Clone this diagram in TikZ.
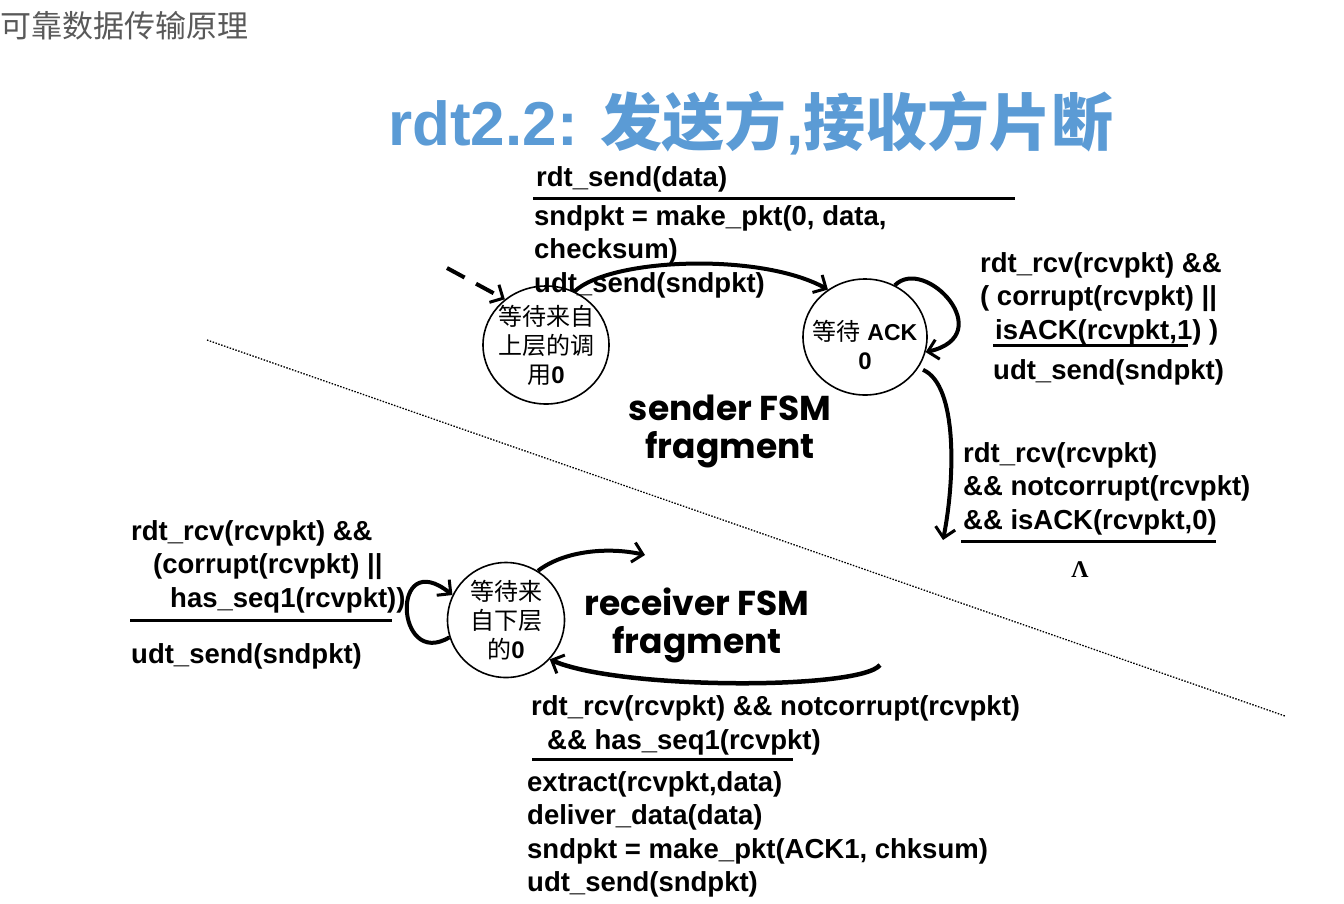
\documentclass[tikz,border=0pt]{standalone}
\usepackage{fontspec}
\setmainfont{Liberation Sans}
\newfontfamily\cjk{Noto Sans CJK SC}
\newfontfamily\comic{Poppins}
\newfontfamily\serifgreek{Liberation Serif}
\usetikzlibrary{arrows.meta,shapes.geometric}
\definecolor{titleblue}{RGB}{91,155,213}
\definecolor{headgrey}{RGB}{89,89,89}
\begin{document}
\begin{tikzpicture}[x=1pt,y=-1pt,
  lbl/.style={anchor=base west, inner sep=0pt, align=left,
    font=\bfseries\fontsize{27.5}{33.5}\selectfont},
  state/.style={ellipse, draw, line width=1.6pt, inner sep=0pt,
    minimum width=124pt, minimum height=116pt},
  stext/.style={align=center, inner sep=0pt, font=\fontsize{24}{29}\selectfont},
  fsm/.style={anchor=center, inner sep=0pt, align=center,
    font=\comic\bfseries\fontsize{34.5}{42}\selectfont},
  trans/.style={line width=4pt, -{Straight Barb[length=10pt,width=20pt,line width=3pt]}},
  bar/.style={line width=3pt},
]
\useasboundingbox (0,0) rectangle (1344,903);

% header and title
\node[anchor=base west, inner sep=0pt, text=headgrey, font=\cjk\fontsize{31}{31}\selectfont] (hdr) at (0,37) {可靠数据传输原理};
\node[anchor=base west, inner sep=0pt, text=titleblue, font=\bfseries\fontsize{62}{62}\selectfont] (title) at (388,145) {rdt2.2: {\cjk\bfseries 发送方},{\cjk\bfseries 接收方片断}};

% divider
\coordinate (d1) at (207,340);
\coordinate (d2) at (1285,716);
\draw[line width=1.3pt, dash pattern=on 1.5pt off 1.5pt] (d1) -- (d2);

% states
\node[state, minimum width=126pt, minimum height=118pt,
  label={[stext]center:{\cjk 等待来自}\\{\cjk 上层的调}\\{\cjk 用}\textbf{0}}] (A) at (546,345) {};
\node[state,
  label={[stext, yshift=-8pt]center:{\cjk 等待} \textbf{\fontsize{23}{29}\selectfont ACK}\\\textbf{0}}] (B) at (865,337) {};
\node[state, minimum width=117pt, minimum height=115pt,
  label={[stext]center:{\cjk 等待来}\\{\cjk 自下层}\\{\cjk 的}\textbf{0}}] (C) at (506,620) {};

% sender labels (multi-line nodes: base = last line)
\node[lbl] (l1) at (536,186) {rdt\_send(data)};
\draw[bar] (533,198) -- (1015,198);
\node[lbl] (l2) at (534,292) {sndpkt = make\_pkt(0, data,\\checksum)\\udt\_send(sndpkt)};

\node[lbl] (l3) at (980,305.5) {rdt\_rcv(rcvpkt) \&\&\\( corrupt(rcvpkt) ||};
\node[lbl] (l4) at (995,339) {isACK(rcvpkt,1) )};
\draw[bar] (993,345) -- (1188,345);
\node[lbl] (l5) at (993,379) {udt\_send(sndpkt)};

\node[lbl] (l6) at (963,529) {rdt\_rcv(rcvpkt)\\\&\& notcorrupt(rcvpkt)\\\&\& isACK(rcvpkt,0)};
\draw[bar] (961,541) -- (1216,541);
\node[inner sep=0pt, font=\serifgreek\bfseries\fontsize{24}{24}\selectfont] (lam) at (1080,570) {Λ};

\node[fsm] (sf1) at (730,408) {sender FSM};
\node[fsm] (sf2) at (730,450) {fragment};

% receiver labels
\node[lbl] (r1) at (131,540) {rdt\_rcv(rcvpkt) \&\&};
\node[lbl] (r2) at (153,573) {(corrupt(rcvpkt) ||};
\node[lbl] (r3) at (170,607) {has\_seq1(rcvpkt))};
\draw[bar] (130,620) -- (392,620);
\node[lbl] (r4) at (131,663) {udt\_send(sndpkt)};

\node[lbl] (r5) at (531,715) {rdt\_rcv(rcvpkt) \&\& notcorrupt(rcvpkt)};
\node[lbl] (r6) at (547,749) {\&\& has\_seq1(rcvpkt)};
\draw[bar] (532,759) -- (793,759);
\node[lbl] (r7) at (527,891.5) {extract(rcvpkt,data)\\deliver\_data(data)\\sndpkt = make\_pkt(ACK1, chksum)\\udt\_send(sndpkt)};

\node[fsm] (rf1) at (697,602) {receiver FSM};
\node[fsm] (rf2) at (697,645) {fragment};

% transitions
\coordinate (init) at (447,268);
\draw[trans, dash pattern=on 20pt off 13pt] (init) -- (A.132);
\draw[trans] (A.62) .. controls (610,258) and (760,252) .. (B.128);
\draw[trans] (B.60) .. controls (925,255) and (1000,335) .. (B.-14);
\coordinate (bend) at (943,540);
\draw[trans, shorten <=5pt] (B.-30) .. controls (958,385) and (955,480) .. (bend);
\draw[trans] (C.197) .. controls (395,670) and (390,545) .. (C.155);
\coordinate (rend) at (645,555);
\draw[trans] (C.57) .. controls (565,550) and (610,547) .. (rend);
\coordinate (rstart) at (880,665);
\draw[trans, line width=4.5pt] (rstart) .. controls (860,690) and (620,690) .. (C.-42);
\end{tikzpicture}
\end{document}
